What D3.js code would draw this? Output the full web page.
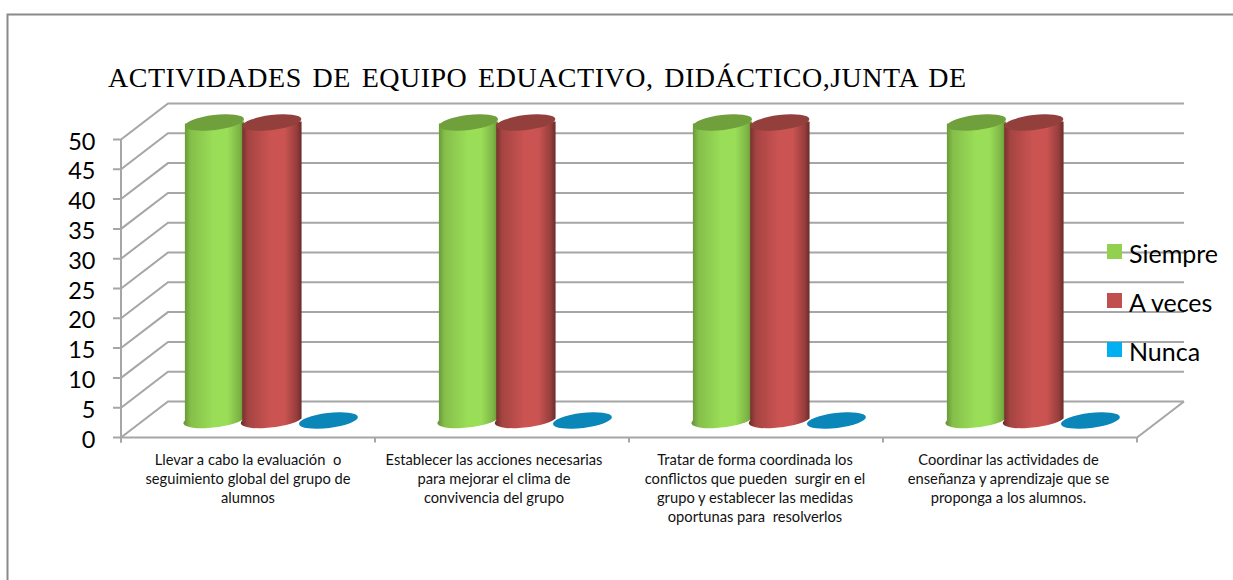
<!DOCTYPE html>
<html><head><meta charset="utf-8">
<script src="https://cdn.jsdelivr.net/npm/d3@7"></script>
<style>html,body{margin:0;padding:0;background:#fff}svg{display:block}</style>
</head><body><div id="c"></div>
<script>
const titleText = "ACTIVIDADES DE EQUIPO EDUACTIVO, DIDÁCTICO,JUNTA DE";
const categories = ["c1","c2","c3","c4"];
const categoryLines = [
  ["Llevar a cabo la evaluación  o","seguimiento global del grupo de","alumnos"],
  ["Establecer las acciones necesarias","para mejorar el clima de","convivencia del grupo"],
  ["Tratar de forma coordinada los","conflictos que pueden  surgir en el","grupo y establecer las medidas","oportunas para  resolverlos"],
  ["Coordinar las actividades de","enseñanza y aprendizaje que se","proponga a los alumnos."]
];
const seriesNames = ["Siempre","A veces","Nunca"];
const siempre = [50,50,50,50];
const aVeces = [50,50,50,50];
const nunca = [0,0,0,0];
const seriesValues = [siempre,aVeces,nunca];
const yTicks = [0,5,10,15,20,25,30,35,40,45,50];
const legendColors = ["#92d050","#c0504d","#00b0f0"];
const palette = [
  {edge:"#659136",mid:"#9ade58",top:"#6fa03c"},
  {edge:"#6b2c2a",mid:"#cb5452",top:"#93403d"},
  {edge:"#0a86b8",mid:"#0a86b8",top:"#0a86b8"}
];

const W=1233,H=580;
const svg=d3.select("#c").append("svg").attr("width",W).attr("height",H);
const font='Lato, "Open Sans", sans-serif';
const dx=47,dy=-36;
const x=d3.scaleBand().domain(categories).range([121,1137]);
const y=d3.scaleLinear().domain([0,50]).range([437.5,139.5]);
const inner=d3.scaleBand().domain(seriesNames).range([0,x.bandwidth()]).paddingInner(0).paddingOuter(0.715);

// frame
svg.append("path").attr("d",`M${W},14.5H7.5V${H}`).attr("fill","none").attr("stroke","#8a8a8a").attr("stroke-width",2);

// gradients
const defs=svg.append("defs");
palette.forEach((p,i)=>{
  const g=defs.append("linearGradient").attr("id","cyl"+i);
  [[0,p.edge],[.12,d3.interpolateRgb(p.edge,p.mid)(.6)],[.5,p.mid],[.72,p.mid],[.92,d3.interpolateRgb(p.edge,p.mid)(.45)],[1,p.edge]]
    .forEach(s=>g.append("stop").attr("offset",s[0]).attr("stop-color",s[1]));
});

const gridColor="#a6a6a6";
const grid=svg.append("g").attr("fill","none").attr("stroke",gridColor).attr("stroke-width",2);
yTicks.forEach(t=>{
  const yy=y(t);
  grid.append("path").attr("d",`M113,${yy}H121L${121+dx},${yy+dy}H${1137+dx}`);
});
grid.append("path").attr("d",`M121,${y(50)}V${y(0)+5}`);
const floorX=[...categories.map(c=>x(c)),x(categories[3])+x.bandwidth()];
grid.append("path").attr("d",`M121,${y(0)}H1137L${1137+dx},${y(0)+dy}`);
floorX.forEach(fx=>grid.append("path").attr("d",`M${fx},${y(0)}v5`));

// cylinders
const rx=inner.bandwidth()/2+1, ry=7.5, tilt=-7;
const bars=svg.append("g").attr("transform","translate(0.4,0)");
categories.forEach((c,ci)=>{
  seriesNames.forEach((s,si)=>{
    const v=seriesValues[si][ci];
    const cx=x(c)+inner(s)+inner.bandwidth()/2+dx/2-(v>0?0:0.8);
    const y0=y(0)+dy/2, y1=y(v)+dy/2+1;
    const g=bars.append("g");
    if(v>0){
      g.append("path").attr("fill",`url(#cyl${si})`)
       .attr("d",`M${cx-rx},${y1+1}V${y0+1}A${rx},${ry} ${tilt} 0 0 ${cx+rx},${y0-1}V${y1-1}Z`);
    }
    g.append("ellipse").attr("cx",cx).attr("cy",y1).attr("rx",rx).attr("ry",ry)
     .attr("transform",`rotate(${tilt} ${cx} ${y1})`).attr("fill",palette[si].top);
  });
});

// y labels
svg.append("g").selectAll("text").data(yTicks).join("text")
 .attr("x",95.5).attr("y",d=>y(d)+1).attr("text-anchor","end").attr("dominant-baseline","central")
 .attr("font-family",font).attr("font-size",23.5).attr("fill","#000").text(d=>d);

// category labels
const labelShift=[0,-8,-1,-1.5];
categories.forEach((c,i)=>{
  const cx=x(c)+x.bandwidth()/2+labelShift[i];
  svg.append("g").selectAll("text").data(categoryLines[i]).join("text")
   .attr("x",cx).attr("y",(d,j)=>459+19*j).attr("text-anchor","middle").attr("dominant-baseline","central")
   .attr("xml:space","preserve").style("white-space","pre")
   .attr("font-family",font).attr("font-size",14.7).attr("fill","#111").text(d=>d);
});

// title
svg.append("text").attr("x",108).attr("y",87).attr("font-family",'"Liberation Serif",serif').attr("font-size",28)
 .attr("letter-spacing",0.5).attr("word-spacing",3.3).attr("fill","#000").text(titleText);

// legend
const legendY=d3.scalePoint().domain(seriesNames).range([251.5,349.5]);
seriesNames.forEach((s,i)=>{
  const yy=legendY(s);
  svg.append("rect").attr("x",1107).attr("y",yy-7.5).attr("width",15).attr("height",15).attr("fill",legendColors[i]);
  svg.append("text").attr("x",1129).attr("y",yy+1).attr("dominant-baseline","central").attr("font-family",font).attr("font-size",25).attr("fill","#000").text(s);
});
</script></body></html>
